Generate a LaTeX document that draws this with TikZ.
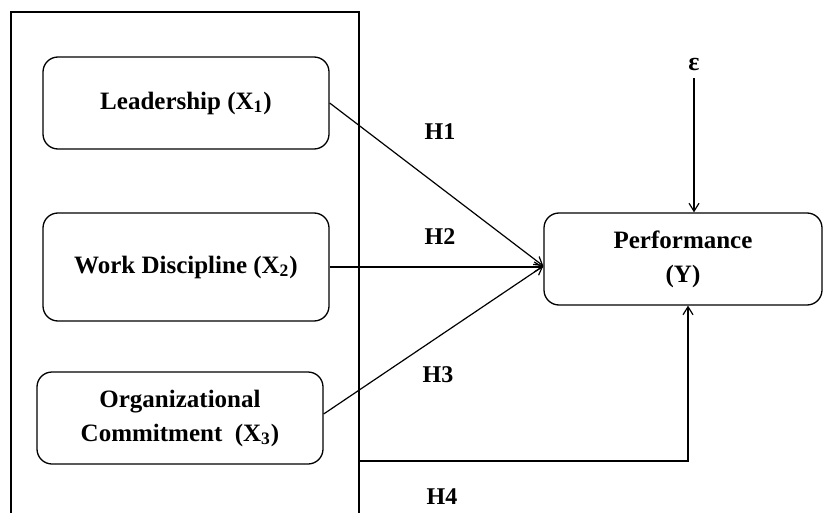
\documentclass[tikz,border=0pt]{standalone}
\usepackage{fontspec}
\setmainfont{Liberation Serif}
\usetikzlibrary{arrows.meta,positioning}

\begin{document}
\begin{tikzpicture}[
  x=0.5pt, y=-0.5pt,
  var/.style={rectangle, draw, line width=0.65pt, rounded corners=7.5pt,
              align=center, minimum width=143pt, minimum height=46pt,
              font=\bfseries\fontsize{12.5}{17}\selectfont},
  hyp/.style={font=\bfseries\fontsize{12}{14}\selectfont},
  arr/.style={-{Straight Barb[length=4pt,width=5pt]}, line width=0.6pt}
]
\useasboundingbox (0,0) rectangle (823,513);
\clip (0,0) rectangle (823,513);
% ── LEFT: independent variables ─────────────
\draw[line width=0.65pt] (11,12) rectangle (359,540);
\node[var] (lead) at (186,103) {Leadership (X\textsubscript{1})};
\node[var, minimum height=54pt] (disc) at (186,267) {Work Discipline (X\textsubscript{2})};
\node[var] (comm) at (180,418) {Organizational\\Commitment~ (X\textsubscript{3})};

% ── RIGHT: dependent variable ─────────────
\node[var, minimum width=139pt] (perf) at (683,259) {Performance\\(Y)};
\node[font=\bfseries\fontsize{13}{15}\selectfont] (eps) at (694,65) {ε};
\coordinate (conv) at ([yshift=-3.5pt]perf.west);
\coordinate (h4start) at (359,461);

% ── paths ─────────────
\draw[arr] (lead.east) -- (conv);
\draw[arr] (disc.east) -- (disc.east -| conv);
\draw[arr] ([yshift=2pt]comm.east) -- (conv);
\draw[arr] (h4start) -| ([xshift=2.5pt]perf.south);
\draw[arr] (eps.south) -- (eps.south |- perf.north);

\node[hyp] (h1) at (440,132) {H1};
\node[hyp] (h2) at (440,237) {H2};
\node[hyp] (h3) at (438,375) {H3};
\node[hyp] (h4) at (442,497) {H4};
\end{tikzpicture}
\end{document}
